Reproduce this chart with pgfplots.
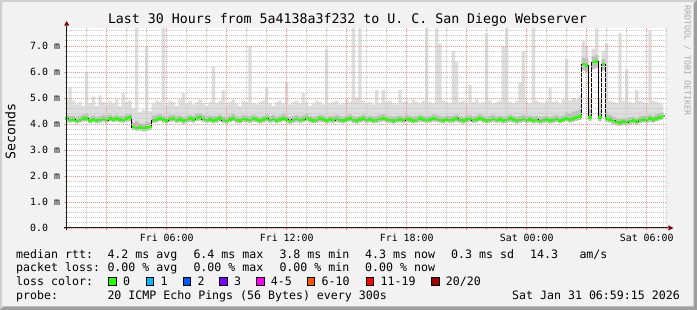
\documentclass[border=0pt]{standalone}
\usepackage{pgfplots}
\pgfplotsset{compat=1.18}
\usepackage{pgfplotstable}
\usepackage{fontspec}
\setmainfont{DejaVu Sans Mono}
\setmonofont{DejaVu Sans Mono}
\frenchspacing
\definecolor{back}{HTML}{F2F2F2}
\definecolor{shadea}{HTML}{CFCFCF}
\definecolor{shadeb}{HTML}{9E9E9E}
\definecolor{mgrid}{HTML}{F09494}
\definecolor{sgrid}{HTML}{C8C8C8}
\definecolor{smokeA}{HTML}{DDDDDD}
\definecolor{smokeB}{HTML}{BEBEBE}
\definecolor{arrowc}{HTML}{7F0000}
\definecolor{wmark}{HTML}{A8A8A8}
\definecolor{lossA}{HTML}{26FF00}
\definecolor{lossB}{HTML}{00B8FF}
\definecolor{lossC}{HTML}{0059FF}
\definecolor{lossD}{HTML}{7E00FF}
\definecolor{lossE}{HTML}{FF00FF}
\definecolor{lossF}{HTML}{FF5500}
\definecolor{lossG}{HTML}{FF0000}
\definecolor{lossH}{HTML}{A10000}

\pgfplotstableread{
i lo dk med hi
0 4.08 4.34 4.20 4.95
1 4.04 4.30 4.15 5.40
2 4.07 4.32 4.18 4.90
3 4.02 4.26 4.12 4.75
4 4.05 4.30 4.16 4.85
5 4.09 4.36 4.20 4.70
6 4.10 4.40 4.22 6.00
7 4.03 4.28 4.14 4.80
8 4.06 4.33 4.18 5.05
9 4.02 4.27 4.13 4.70
10 4.05 4.30 4.16 5.10
11 4.08 4.34 4.19 4.85
12 4.04 4.29 4.15 4.75
13 4.10 4.36 4.21 4.90
14 4.07 4.31 4.18 4.80
15 4.09 4.35 4.20 4.95
16 4.06 4.30 4.17 4.70
17 4.05 4.31 4.16 5.20
18 4.08 4.36 4.20 4.85
19 4.10 4.40 4.24 4.90
20 3.76 4.05 3.88 4.60
21 3.74 4.10 3.85 7.70
22 3.75 4.02 3.87 4.45
23 3.72 4.00 3.84 4.55
24 3.74 4.08 3.86 7.00
25 3.76 4.05 3.88 4.50
26 4.03 4.32 4.15 4.80
27 4.06 4.34 4.18 4.90
28 4.10 4.38 4.22 4.85
29 4.05 4.32 4.17 7.70
30 4.02 4.28 4.14 4.75
31 4.07 4.34 4.19 4.90
32 4.09 4.36 4.21 4.85
33 4.03 4.30 4.15 4.70
34 4.06 4.33 4.18 4.95
35 4.01 4.27 4.13 5.20
36 4.05 4.30 4.16 4.80
37 4.08 4.35 4.20 4.90
38 4.05 4.31 4.17 4.75
39 4.11 4.40 4.23 4.85
40 4.13 4.42 4.26 4.95
41 4.07 4.34 4.19 4.80
42 4.04 4.30 4.16 4.70
43 4.06 4.32 4.18 4.85
44 4.02 4.30 4.14 6.20
45 4.05 4.31 4.17 4.80
46 4.09 4.36 4.21 4.90
47 4.03 4.29 4.15 5.30
48 4.00 4.26 4.12 4.75
49 4.06 4.33 4.18 4.85
50 4.10 4.38 4.22 4.95
51 4.04 4.30 4.16 4.80
52 4.02 4.28 4.14 4.70
53 4.07 4.34 4.19 4.90
54 4.05 4.31 4.17 4.85
55 4.03 4.30 4.15 7.00
56 4.08 4.35 4.20 4.80
57 4.06 4.32 4.18 4.75
58 4.01 4.27 4.13 4.85
59 4.05 4.31 4.17 4.90
60 4.09 4.37 4.21 5.40
61 4.04 4.30 4.16 4.80
62 4.07 4.34 4.19 4.70
63 4.02 4.28 4.14 4.85
64 4.06 4.32 4.18 4.90
65 4.10 4.38 4.22 4.80
66 4.05 4.31 4.17 5.60
67 4.00 4.26 4.12 4.75
68 4.04 4.30 4.16 4.85
69 4.07 4.34 4.19 4.90
70 4.03 4.29 4.15 4.80
71 4.06 4.32 4.18 5.20
72 4.11 4.40 4.23 4.85
73 4.05 4.31 4.17 4.70
74 4.02 4.28 4.14 4.80
75 4.04 4.30 4.16 4.90
76 4.08 4.36 4.20 4.85
77 4.06 4.32 4.18 4.75
78 4.01 4.27 4.13 6.90
79 4.05 4.31 4.17 4.80
80 4.03 4.29 4.15 4.85
81 4.07 4.34 4.19 4.90
82 4.04 4.30 4.16 4.75
83 4.02 4.28 4.14 4.80
84 4.06 4.32 4.18 4.95
85 4.09 4.37 4.21 4.85
86 4.04 4.30 4.16 7.70
87 4.01 4.27 4.13 5.00
88 4.05 4.31 4.17 7.70
89 4.08 4.36 4.20 4.90
90 4.03 4.29 4.15 4.80
91 4.06 4.32 4.18 4.85
92 4.02 4.28 4.14 4.75
93 4.04 4.30 4.16 5.30
94 4.07 4.34 4.19 4.80
95 4.10 4.38 4.22 5.30
96 4.05 4.31 4.17 4.85
97 4.03 4.29 4.15 4.90
98 4.01 4.27 4.13 4.80
99 4.04 4.30 4.16 4.75
100 4.06 4.32 4.18 5.30
101 4.03 4.29 4.15 4.85
102 4.07 4.34 4.19 4.90
103 4.05 4.31 4.17 4.80
104 4.02 4.28 4.14 4.95
105 4.04 4.30 4.16 4.85
106 4.08 4.36 4.20 4.80
107 4.06 4.32 4.18 4.90
108 4.03 4.29 4.15 7.70
109 4.05 4.31 4.17 4.85
110 4.09 4.37 4.21 4.80
111 4.07 4.34 4.19 7.70
112 4.04 4.30 4.16 7.10
113 4.02 4.28 4.14 4.90
114 4.06 4.32 4.18 4.85
115 4.03 4.29 4.15 4.80
116 4.05 4.31 4.17 6.80
117 4.08 4.36 4.20 6.40
118 4.04 4.30 4.16 4.85
119 4.01 4.27 4.13 4.90
120 4.05 4.31 4.17 4.80
121 4.07 4.34 4.19 5.50
122 4.03 4.29 4.15 4.85
123 4.06 4.32 4.18 4.95
124 4.10 4.38 4.22 4.80
125 4.05 4.31 4.17 4.85
126 4.02 4.28 4.14 7.50
127 4.04 4.30 4.16 4.90
128 4.07 4.34 4.19 4.80
129 4.03 4.29 4.15 4.85
130 4.06 4.32 4.18 4.90
131 4.02 4.28 4.14 7.00
132 4.04 4.30 4.16 7.70
133 4.08 4.36 4.20 4.85
134 4.05 4.31 4.17 4.80
135 4.01 4.27 4.13 4.90
136 4.04 4.30 4.16 5.60
137 4.07 4.34 4.19 6.80
138 4.03 4.29 4.15 4.85
139 4.06 4.32 4.18 4.80
140 4.02 4.28 4.14 7.70
141 4.04 4.30 4.16 4.90
142 4.00 4.26 4.12 4.85
143 4.03 4.29 4.15 4.80
144 4.05 4.31 4.17 4.90
145 4.01 4.27 4.13 5.40
146 4.04 4.30 4.16 4.85
147 4.07 4.34 4.19 4.90
148 4.02 4.28 4.14 4.80
149 4.06 4.32 4.18 4.95
150 4.10 4.45 4.22 6.50
151 4.05 4.40 4.17 4.90
152 4.08 4.48 4.20 5.00
153 4.12 4.50 4.24 4.95
154 4.15 4.55 4.28 5.10
155 6.05 6.55 6.30 7.20
156 6.00 6.50 6.26 7.00
157 4.12 4.55 4.26 5.00
158 6.10 6.60 6.38 6.90
159 6.15 6.65 6.40 7.70
160 4.10 4.50 4.24 5.00
161 6.05 6.50 6.30 6.80
162 4.08 4.45 4.22 7.10
163 4.05 4.35 4.18 4.90
164 3.99 4.28 4.12 4.85
165 3.95 4.22 4.08 4.80
166 3.93 4.20 4.06 7.50
167 3.97 4.24 4.10 4.90
168 3.95 4.22 4.08 6.10
169 3.99 4.26 4.12 4.85
170 4.01 4.28 4.14 4.80
171 3.97 4.24 4.10 5.30
172 4.03 4.29 4.15 4.90
173 4.06 4.32 4.18 4.85
174 4.04 4.30 4.16 4.80
175 4.08 4.36 4.20 7.60
176 4.05 4.31 4.17 4.90
177 4.10 4.38 4.22 4.85
178 4.14 4.42 4.26 4.80
179 4.18 4.46 4.30 4.75
}\smoke

\begin{document}
\begin{tikzpicture}
% frame and background (1pt = 1px, image 697 x 310)
\begin{scope}[x=1pt,y=1pt]
\fill[back] (0,0) rectangle (697,310);
\fill[shadea] (0,0) -- (0,310) -- (697,310) -- (695,308) -- (2,308) -- (2,2) -- cycle;
\fill[shadeb] (0,0) -- (697,0) -- (697,310) -- (693.5,306.5) -- (693.5,3.5) -- (3.5,3.5) -- cycle;
\end{scope}

\begin{axis}[
  at={(66.7pt,82pt)}, anchor=south west,
  scale only axis, width=600pt, height=200.2pt,
  xmin=1, xmax=31, ymin=0, ymax=7.7,
  axis line style={draw=none},
  axis background/.style={fill=white},
  axis on top,
  tick pos=left,
  xtick={3,6,...,30},
  xticklabels={,Fri 06:00,,Fri 12:00,,Fri 18:00,,Sat 00:00,,Sat 06:00},
  minor xtick={1,...,31},
  ytick={0,1,2,3,4,5,6,7},
  yticklabels={0.0\hphantom{~m},1.0 m,2.0 m,3.0 m,4.0 m,5.0 m,6.0 m,7.0 m},
  minor ytick={0.2,0.4,0.6,0.8,1.2,1.4,1.6,1.8,2.2,2.4,2.6,2.8,3.2,3.4,3.6,3.8,4.2,4.4,4.6,4.8,5.2,5.4,5.6,5.8,6.2,6.4,6.6,6.8,7.2,7.4,7.6},
  grid=both,
  major grid style={draw=mgrid, line width=0.8pt, dash pattern=on 1pt off 1pt},
  minor grid style={draw=sgrid, line width=0.8pt, dash pattern=on 1pt off 1pt},
  tick align=outside,
  major tick length=2.5pt, minor tick length=2pt,
  major tick style={draw=mgrid, line width=0.8pt},
  minor tick style={draw=sgrid, line width=0.8pt},
  ticklabel style={font=\fontsize{9.9}{11}\selectfont, inner sep=0pt},
  yticklabel style={anchor=east, xshift=-4pt},
  xticklabel style={anchor=base, yshift=-11pt},
]
\addplot[const plot mark mid, fill=smokeA, draw=none] table[x expr=1+\thisrow{i}/6, y=hi] {\smoke} \closedcycle;
\addplot[const plot mark mid, fill=smokeB, draw=none] table[x expr=1+\thisrow{i}/6, y=dk] {\smoke} \closedcycle;
\addplot[const plot mark mid, fill=white, draw=none] table[x expr=1+\thisrow{i}/6, y=lo] {\smoke} \closedcycle;
\addplot[const plot mark mid, draw=black, line width=0.8pt] table[x expr=1+\thisrow{i}/6, y=med] {\smoke};
\addplot[only marks, mark=-, mark size=1.667pt, mark options={draw=lossA, line width=2.6pt}] table[x expr=1+\thisrow{i}/6, y=med] {\smoke};
\end{axis}

\begin{scope}[x=1pt,y=1pt]
% axis lines and arrows
\draw[black!90, line width=1pt] (63.5,82) -- (668.3,82);
\draw[black!90, line width=1pt] (66.7,79.5) -- (66.7,284.3);
\fill[arrowc] (668.3,84.6) -- (673.5,82) -- (668.3,79.4) -- cycle;
\fill[arrowc] (64.1,284.3) -- (66.7,289) -- (69.3,284.3) -- cycle;

% title, axis label, watermark
\node[anchor=base, inner sep=0pt, font=\fontsize{13.26}{15}\selectfont] at (347.5,286.7) {Last 30 Hours from 5a4138a3f232 to U. C. San Diego Webserver};
\node[anchor=base, rotate=90, inner sep=0pt, font=\fontsize{13.26}{15}\selectfont] at (15.5,178.5) {Seconds};
\node[anchor=base west, rotate=-90, inner sep=0pt, text=wmark, font=\fontsize{8.3}{9}\selectfont] at (684.5,305) {RRDTOOL / TOBI OETIKER};

% legend / statistics
\begin{scope}[every node/.style={anchor=base west, inner sep=0pt, font=\fontsize{11.6}{13}\selectfont}]
\node at (16,51.7) {median rtt:};
\node at (107.3,51.7) {4.2 ms avg};
\node at (193.3,51.7) {6.4 ms max};
\node at (279.3,51.7) {3.8 ms min};
\node at (365,51.7) {4.3 ms now};
\node at (451,51.7) {0.3 ms sd};
\node at (530,51.7) {14.3};
\node at (579.3,51.7) {am/s};
\node at (16,38) {packet loss:};
\node at (107.3,38) {0.00 \% avg};
\node at (193.3,38) {0.00 \% max};
\node at (279.3,38) {0.00 \% min};
\node at (365,38) {0.00 \% now};
\node at (16,24.3) {loss color:};
\node at (123,24.3) {0};
\node at (160.4,24.3) {1};
\node at (197.4,24.3) {2};
\node at (234,24.3) {3};
\node at (270.7,24.3) {4-5};
\node at (321.4,24.3) {6-10};
\node at (380.4,24.3) {11-19};
\node at (445.7,24.3) {20/20};
\node at (16,10.6) {probe:};
\node at (107.3,10.6) {20 ICMP Echo Pings (56 Bytes) every 300s};
\node[anchor=base east] at (680,10.6) {Sat Jan 31 06:59:15 2026};
\end{scope}
\begin{scope}[line width=0.8pt, draw=black]
\filldraw[fill=lossA] (108.6,24.2) rectangle +(7.8,8.6);
\filldraw[fill=lossB] (146.0,24.2) rectangle +(7.8,8.6);
\filldraw[fill=lossC] (183.0,24.2) rectangle +(7.8,8.6);
\filldraw[fill=lossD] (219.6,24.2) rectangle +(7.8,8.6);
\filldraw[fill=lossE] (256.3,24.2) rectangle +(7.8,8.6);
\filldraw[fill=lossF] (307.0,24.2) rectangle +(7.8,8.6);
\filldraw[fill=lossG] (366.0,24.2) rectangle +(7.8,8.6);
\filldraw[fill=lossH] (431.3,24.2) rectangle +(7.8,8.6);
\end{scope}
\end{scope}
\pgfresetboundingbox
\useasboundingbox (0,0) rectangle (697pt,310pt);
\end{tikzpicture}
\end{document}
